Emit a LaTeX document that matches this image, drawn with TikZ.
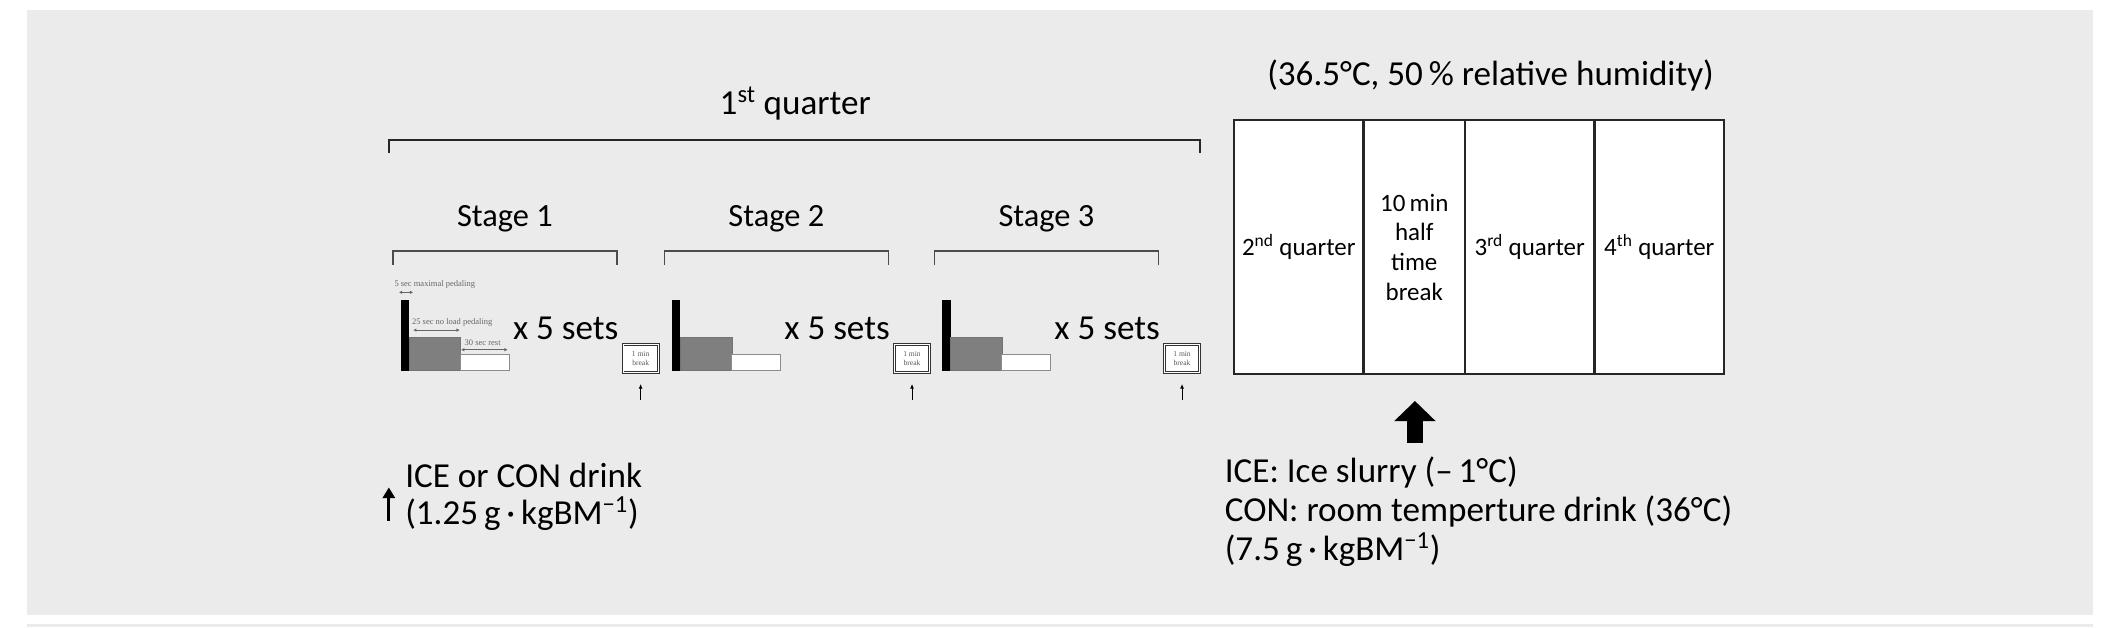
\documentclass[tikz,border=0pt]{standalone}
\usepackage{fontspec}
\setmainfont{Carlito}
\newfontfamily\tinyserif{Liberation Serif}
\usetikzlibrary{arrows.meta,positioning}
\definecolor{panelgray}{HTML}{EBEBEC}
\definecolor{bargray}{HTML}{7F7F7F}

\begin{document}
\begin{tikzpicture}[x=1pt,y=-1pt,
  lbl/.style={inner sep=0pt,font=\fontsize{26}{28}\selectfont},
  stagelbl/.style={inner sep=0pt,font=\fontsize{24}{28}\selectfont},
  celltxt/.style={draw=black!85,line width=1.8pt,fill=white,anchor=north west,outer sep=0pt,
    minimum height=188pt,inner sep=0pt,align=center,font=\fontsize{18.5}{22}\selectfont},
  note/.style={inner sep=0pt,font=\tinyserif\fontsize{6.3}{7}\selectfont,text=black!60},
  brk/.style={draw=black!80,double=white,double distance=0.6pt,fill=white,line width=0.7pt,
    minimum width=26pt,minimum height=21pt,inner sep=0pt,align=center,
    font=\tinyserif\fontsize{5.6}{7}\selectfont,text=black!65},
  bracket/.style={draw=black!70,line width=1pt},
  span/.style={{Latex[length=2.4pt,width=2.6pt]}-{Latex[length=2.4pt,width=2.6pt]},draw=black!60,line width=0.5pt}]
  \useasboundingbox (0,0) rectangle (1568,465);
  \fill[panelgray] (20,7.5) rectangle (1550,455.5);
  \draw[panelgray,line width=2pt] (20,463.5) -- (1550,463.5);

  % 1st quarter with its three stages
  \node[lbl] (q1) at (589,77) {1\textsuperscript{st} quarter};
  \draw[bracket,line width=1.5pt,draw=black!85] (288,113) -- (288,104) -- (889,104) -- (889,113);

  \foreach \s/\x in {1/297,2/498,3/698}{
    \draw[bracket] (\x-6,196) -- (\x-6,186) -- (\x+160,186) -- (\x+160,196);
    \node[stagelbl] (st\s) at (\x+77,162) {Stage \s};
    \fill[black] (\x,222.5) rectangle (\x+6,274.5);
    \filldraw[fill=bargray,draw=black!55,line width=0.4pt] (\x+6,249.5) rectangle (\x+44,274.5);
    \draw[draw=black!45,fill=white,line width=0.6pt] (\x+44,262.5) rectangle (\x+80,274.5);
    \node[lbl] (sets\s) at (\x+122,243) {x 5 sets};
    \node[brk] (br\s) at (\x+177.5,265.5) {1 min\\break};
    \coordinate (tail\s) at (\x+177.5,296);
    \draw[-{Latex[length=3.5pt,width=3pt]},line width=0.7pt] (tail\s) -- ([yshift=-8pt]br\s.south);
  }

  % timing notes of stage 1
  \node[note,anchor=west] (n5) at (292,210.5) {5 sec maximal pedaling};
  \draw[span] (295.5,216.5) -- (306,216.5);
  \node[note,anchor=west] (n25) at (305,238.5) {25 sec no load pedaling};
  \draw[span] (306,244.5) -- (340.5,244.5);
  \node[note,anchor=west] (n30) at (344,254) {30 sec rest};
  \draw[span] (341.5,259) -- (376,259);

  % drink during the 1st quarter
  \node[lbl,anchor=west,align=left] (drink1) at (300,368)
    {ICE or CON drink\\(1.25\,g\,·\,kgBM\textsuperscript{−1})};
  \coordinate (a1) at (288,386);
  \draw[-{Triangle[length=8pt,width=9pt]},line width=2pt] (a1) -- (288,361);

  % remaining quarters
  \node[lbl] (clim) at (1104,56) {(36.5°C, 50\,\% relative humidity)};
  \node[celltxt,minimum width=96pt] (q2) at (914,89) {2\textsuperscript{nd} quarter};
  \node[celltxt,minimum width=75pt] (half) at (q2.north east) {10\,min\\half\\time\\break};
  \node[celltxt,minimum width=96pt] (q3) at (half.north east) {3\textsuperscript{rd} quarter};
  \node[celltxt,minimum width=96pt] (q4) at (q3.north east) {4\textsuperscript{th} quarter};

  % drink at half time
  \node[lbl,anchor=north west,align=left,font=\fontsize{26}{29}\selectfont] (drink2) at (907,338)
    {ICE: Ice slurry (–\,1°C)\\CON: room temperture drink (36°C)\\(7.5\,g\,·\,kgBM\textsuperscript{−1})};
  \coordinate (a2) at (1048,328);
  \draw[-{Triangle[length=15pt,width=30pt]},line width=12pt] (a2) -- (1048,297);
\end{tikzpicture}
\end{document}
